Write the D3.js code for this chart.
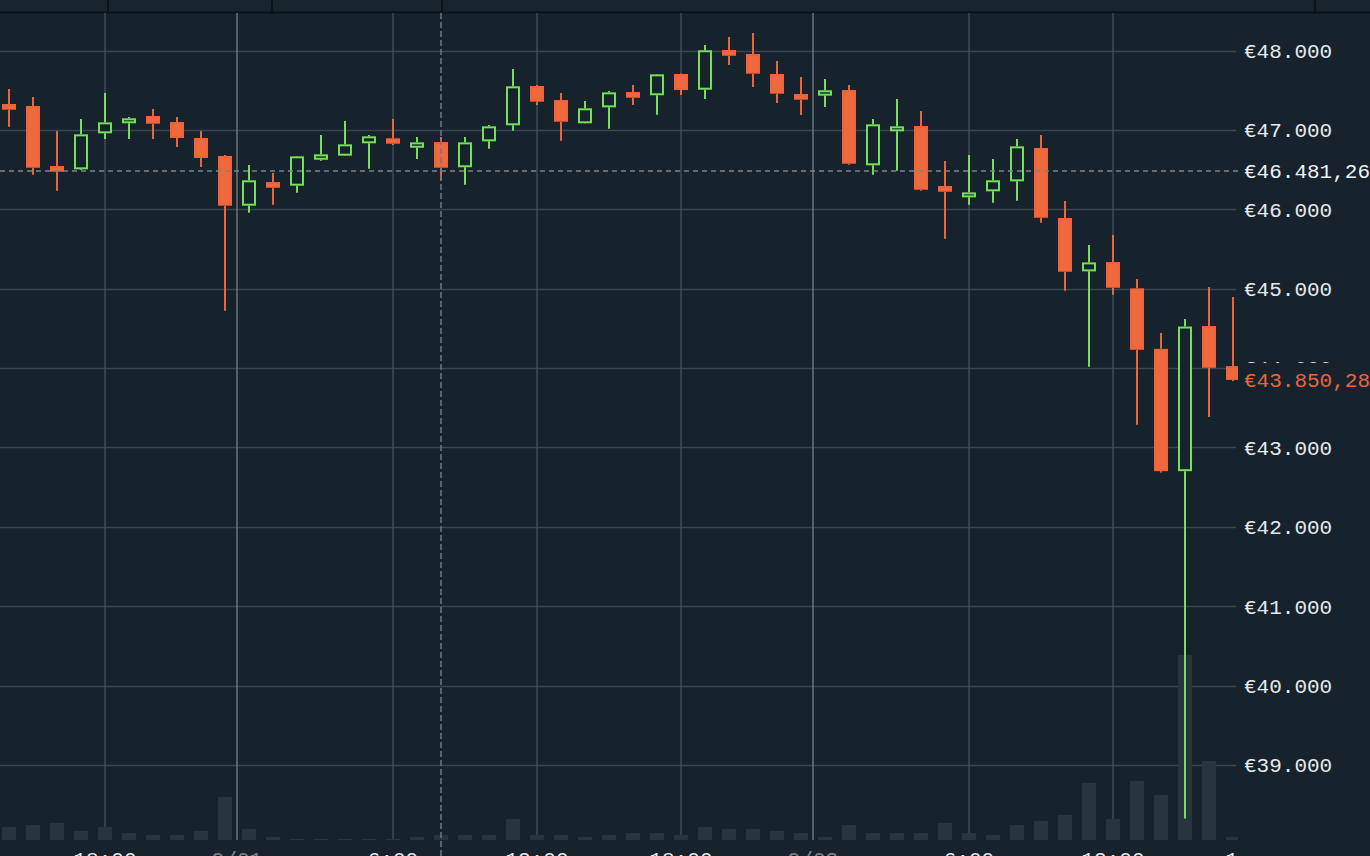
<!DOCTYPE html>
<html>
<head>
<meta charset="utf-8">
<script src="https://cdn.jsdelivr.net/npm/d3@7"></script>
<style>
  html, body { margin: 0; padding: 0; background: #16222c; overflow: hidden; }
  svg { display: block; }
</style>
</head>
<body>
<svg id="chart" width="1370" height="856"></svg>
<script>
// ---- data (hourly candles, index 0 = first candle) ----
const opens  = [47326,47301,46545,46503,46957,47083,47175,47099,46898,46671,46045,46343,46297,46624,46675,46831,46894,46775,46847,46529,46856,47058,47553,47376,47083,47284,47477,47436,47704,47506,48006,47956,47704,47452,47431,47502,46554,46982,47049,46293,46150,46226,46352,46772,45890,45218,45335,45004,44242,42701,44529,44025];
const highs  = [47515,47414,46986,47137,47465,47162,47263,47162,46986,46683,46557,46457,46671,46935,47112,46935,47137,46910,46910,46910,47061,47767,47565,47465,47364,47490,47565,47704,47710,48069,48170,48220,47868,47666,47641,47565,47137,47389,47238,46608,46683,46633,46885,46935,46104,45549,45675,45121,44443,44619,45021,44894];
const lows   = [47040,46435,46234,46495,46885,46885,46885,46784,46532,44722,45956,46057,46208,46612,46670,46511,46809,46633,46360,46309,46763,46990,47313,46863,47080,47015,47313,47191,47439,47389,47817,47540,47339,47187,47288,46561,46435,46486,46234,45629,46057,46082,46108,45830,44974,44016,44923,43285,42684,38326,43382,43836];
const closes = [47254,46523,46473,46944,47095,47146,47078,46898,46646,46045,46365,46271,46667,46692,46818,46919,46826,46843,46523,46843,47045,47549,47355,47103,47272,47473,47405,47700,47502,48003,47934,47708,47456,47380,47499,46574,47070,47045,46246,46221,46213,46365,46793,45893,45213,45331,45011,44230,42701,44523,44003,43850.28];
const volumes = [13,15,17,9,13,7,5,5,9,43,11,3,1,1,1,1,1,3,5,5,5,21,5,5,3,5,7,7,5,13,11,11,9,7,3,15,7,7,7,17,7,5,15,19,25,57,21,59,45,185,79,3];

const priceTicks = [39000,40000,41000,42000,43000,44000,45000,46000,47000,48000];
const timeTickPos = [4, 9.5, 16, 22, 28, 33.5, 40, 46, 52];
const timeTickLabels = ["18:00","9/01","6:00","12:00","18:00","9/02","6:00","12:00","18:00"];
const dayTick = [false,true,false,false,false,true,false,false,false];
const refPrice = 46481.26;
const lastPrice = 43850.28;
const crosshairIndex = 18;

// ---- setup ----
const W = 1370, H = 856;
const plotRight = 1238;
const BG = "#16222c";
const UP = "#74e05a", DOWN = "#f0643a";
const FONT = "'Liberation Mono', 'DejaVu Sans Mono', monospace";

const euro = d3.formatLocale({decimal: ",", thousands: ".", grouping: [3], currency: ["€", ""]});
const fmt0 = euro.format("$,.0f");
const fmt2 = euro.format("$,.2f");

const svg = d3.select("#chart");
const x = d3.scaleLinear().domain([0, 51]).range([9, 1233]);
const y = d3.scaleLinear().domain([39000, 48000]).range([765, 50.5]);
const yv = d3.scaleLinear().domain([0, 185]).range([840, 655]);

svg.append("rect").attr("width", W).attr("height", H).attr("fill", BG);

svg.append("defs").append("clipPath").attr("id", "plot")
  .append("rect").attr("x", 0).attr("y", 13).attr("width", plotRight).attr("height", H);

// header strip
const header = svg.append("g");
header.append("rect").attr("x", 0).attr("y", 0).attr("width", W).attr("height", 12).attr("fill", "#17232d");
header.append("line").attr("x1", 0).attr("x2", W).attr("y1", 12.5).attr("y2", 12.5)
  .attr("stroke", "#0c1217").attr("stroke-width", 2);
[108, 272, 442, 1315].forEach(sx => {
  header.append("line").attr("x1", sx).attr("x2", sx).attr("y1", 0).attr("y2", 12)
    .attr("stroke", "#0c1217").attr("stroke-width", 2);
});

// horizontal grid
svg.append("g").selectAll("line").data(priceTicks).join("line")
  .attr("x1", 0).attr("x2", 1236)
  .attr("y1", d => Math.round(y(d)) + 0.5).attr("y2", d => Math.round(y(d)) + 0.5)
  .attr("stroke", "#39454f").attr("stroke-width", 1.5);

const plot = svg.append("g").attr("clip-path", "url(#plot)");

// vertical grid (clipped to plot)
plot.append("g").selectAll("line").data(timeTickPos).join("line")
  .attr("x1", d => x(d)).attr("x2", d => x(d))
  .attr("y1", 13).attr("y2", 840)
  .attr("stroke", (d, i) => dayTick[i] ? "#6b757d" : "#3f4b55")
  .attr("stroke-width", 1.5);

// volume bars
plot.append("g").selectAll("rect").data(volumes).join("rect")
  .attr("x", (d, i) => x(i) - 7).attr("width", 14)
  .attr("y", d => yv(d)).attr("height", d => 840 - yv(d))
  .attr("fill", "#28353f");

// reference price dashed line
svg.append("line").attr("x1", 0).attr("x2", 1240)
  .attr("y1", y(refPrice)).attr("y2", y(refPrice))
  .attr("stroke", "#7a848c").attr("stroke-width", 1.5).attr("stroke-dasharray", "5,4");

// crosshair vertical
svg.append("line").attr("x1", x(crosshairIndex)).attr("x2", x(crosshairIndex))
  .attr("y1", 13).attr("y2", H)
  .attr("stroke", "#6f7a82").attr("stroke-width", 1.5).attr("stroke-dasharray", "6,3");

// candles
const candles = d3.range(opens.length).map(i => ({
  i, o: opens[i], h: highs[i], l: lows[i], c: closes[i], up: closes[i] >= opens[i]
}));
const cg = plot.append("g").selectAll("g").data(candles).join("g");

// wicks
cg.append("line")
  .attr("x1", d => x(d.i)).attr("x2", d => x(d.i))
  .attr("y1", d => y(d.h)).attr("y2", d => d.up ? y(d.c) : y(d.o))
  .attr("stroke", d => d.up ? UP : DOWN).attr("stroke-width", 2);
cg.append("line")
  .attr("x1", d => x(d.i)).attr("x2", d => x(d.i))
  .attr("y1", d => d.up ? y(d.o) : y(d.c)).attr("y2", d => y(d.l))
  .attr("stroke", d => d.up ? UP : DOWN).attr("stroke-width", 2);
// bodies
cg.append("rect")
  .attr("x", d => x(d.i) - 6).attr("width", 12)
  .attr("y", d => Math.min(y(d.o), y(d.c)) + 1)
  .attr("height", d => Math.max(2, Math.abs(y(d.o) - y(d.c)) - 2))
  .attr("fill", d => d.up ? BG : "#ee6a3e")
  .attr("stroke", d => d.up ? UP : "#f2633a")
  .attr("stroke-width", 2);

// price axis labels
svg.append("g").selectAll("text").data(priceTicks).join("text")
  .attr("x", 1244).attr("y", d => y(d))
  .attr("dy", "0.35em")
  .attr("font-family", FONT).attr("font-size", 21)
  .attr("fill", "#e6eaed")
  .text(d => fmt0(d));

// reference price label
svg.append("text").attr("x", 1244).attr("y", y(refPrice)).attr("dy", "0.35em")
  .attr("font-family", FONT).attr("font-size", 21).attr("fill", "#eef1f3")
  .text(fmt2(refPrice));

// last price label with background
svg.append("rect").attr("x", 1240).attr("y", y(lastPrice) - 17).attr("width", 130).attr("height", 34)
  .attr("fill", BG);
svg.append("text").attr("x", 1244).attr("y", y(lastPrice)).attr("dy", "0.35em")
  .attr("font-family", FONT).attr("font-size", 21).attr("fill", DOWN)
  .text(fmt2(lastPrice));

// time axis labels
plot.append("g").selectAll("text").data(timeTickPos).join("text")
  .attr("x", d => x(d)).attr("y", 866)
  .attr("text-anchor", "middle")
  .attr("font-family", FONT).attr("font-size", 21)
  .attr("fill", (d, i) => dayTick[i] ? "#7d868d" : "#e6eaed")
  .text((d, i) => timeTickLabels[i]);
</script>
</body>
</html>
